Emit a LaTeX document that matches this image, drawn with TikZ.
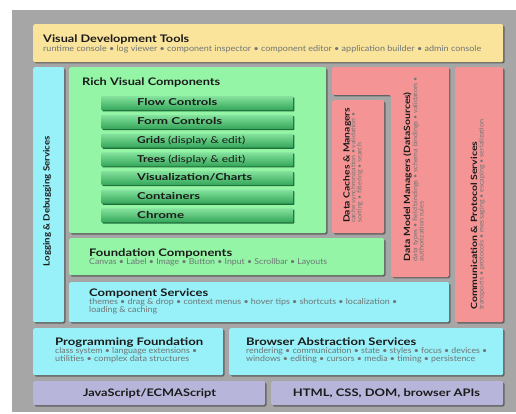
\documentclass[tikz,border=0pt]{standalone}
\usepackage{fontspec}
\setmainfont{Lato}
\usetikzlibrary{shadows}

\definecolor{bggray}{HTML}{A6A6A6}
\definecolor{toolyellow}{HTML}{FAE39B}
\definecolor{richgreen}{HTML}{94F5A6}
\definecolor{svccyan}{HTML}{98F0F8}
\definecolor{datared}{HTML}{F59494}
\definecolor{baselilac}{HTML}{B8B5DA}
\definecolor{inkdark}{HTML}{1A1A1A}
\definecolor{subgray}{HTML}{6E7676}
\definecolor{btntop}{HTML}{84E29D}
\definecolor{btnmid}{HTML}{4DC273}
\definecolor{btnbot}{HTML}{34A659}
\definecolor{btnedge}{HTML}{1F6E3A}

% set a text to a given width, keeping its height
\newcommand\fitw[2]{\resizebox{#1pt}{\height}{#2}}

\tikzset{
  panel/.style={rounded corners=1.5pt, inner sep=0pt, anchor=north west,
    drop shadow={shadow xshift=1.3pt, shadow yshift=-1.3pt, fill=black, opacity=0.4}},
  pushbutton/.style={rounded corners=0.8pt, inner sep=0pt, anchor=north west,
    minimum width=192pt, minimum height=14pt,
    top color=btntop, middle color=btnmid, bottom color=btnbot,
    drop shadow={shadow xshift=1.2pt, shadow yshift=-1.2pt, fill=btnedge, opacity=1}},
  ttl/.style={font=\fontsize{10.4}{12}\selectfont\bfseries, text=inkdark,
    inner sep=0pt, anchor=base west},
  btnlabel/.style={ttl, font=\fontsize{9.5}{11}\selectfont\bfseries},
  sub/.style={font=\fontsize{8.2}{8}\selectfont, text=subgray,
    inner sep=0pt, anchor=base west, align=left},
  vttl/.style={ttl, font=\fontsize{8.6}{10}\selectfont\bfseries, rotate=90},
  vsub/.style={sub, font=\fontsize{6.6}{6.2}\selectfont, rotate=90},
}

% a filled panel: name, colour, top-left x, top-left y, width, height
\newcommand\panelbox[6]{%
  \node[panel, fill=#2, minimum width=#5pt, minimum height=#6pt] (#1) at (#3,#4) {};}
% a green push button with its label: name, top y, label width, label
\newcommand\pushbtn[4]{%
  \node[pushbutton] (#1) at (101,#2) {};
  \node[btnlabel] (#1T) at (137,#2+10) {\fitw{#3}{#4}};}

\begin{document}
\begin{tikzpicture}[x=1pt, y=-1pt]
  \useasboundingbox (0,0) rectangle (516,414);
  \fill[white] (0,0) rectangle (516,414);
  \fill[bggray] (12,10) rectangle (516,412);

  % top layer: tools
  \panelbox{vdt}{toolyellow}{33}{24}{470}{38}
  \node[ttl] (vdtT) at (43,43) {\fitw{146}{Visual Development Tools}};
  \node[sub] (vdtS) at (43,51.5) {\fitw{438}{runtime console • log viewer • component inspector • component editor • application builder • admin console}};

  % left column: logging
  \panelbox{log}{svccyan}{33}{67}{31}{255}
  \node[vttl] (logT) at (49.5,266.5) {\fitw{130}{Logging \& Debugging Services}};

  % rich visual components with its buttons
  \panelbox{rich}{richgreen}{69}{67}{257}{166}
  \node[ttl] (richT) at (82,86) {\fitw{138}{Rich Visual Components}};
  \pushbtn{flow}{96}{80}{Flow Controls}
  \pushbtn{form}{114.7}{85}{Form Controls}
  \pushbtn{grids}{133.4}{108}{Grids {\mdseries (display \& edit)}}
  \pushbtn{trees}{152.1}{108}{Trees {\mdseries (display \& edit)}}
  \pushbtn{vis}{170.8}{115}{Visualization/Charts}
  \pushbtn{cont}{189.5}{63}{Containers}
  \pushbtn{chrome}{208.2}{47}{Chrome}

  % data layer
  \fill[datared, rounded corners=1.5pt,
    drop shadow={shadow xshift=1.3pt, shadow yshift=-1.3pt, fill=black, opacity=0.4}]
    (332,67) -- (449,67) -- (449,277) -- (391,277) -- (391,95) -- (332,95) -- cycle;
  \node[vttl] (modelT) at (410,261.5) {\fitw{169}{Data Model Managers (DataSources)}};
  \node[vsub] (modelS) at (423.5,261.5) {\fitw{184}{data types • field bindings • schema bindings • validators •}\\\fitw{60}{authorization rules}};

  \panelbox{caches}{datared}{332}{100}{52}{133}
  \node[vttl] (cachesT) at (349.5,223) {\fitw{115}{Data Caches \& Managers}};
  \node[vsub] (cachesS) at (361.5,223) {\fitw{110}{cache synchronization • validation •}\\\fitw{80}{sorting • filtering • search}};

  \panelbox{comm}{datared}{455}{67}{48}{255}
  \node[vttl] (commT) at (477,310) {\fitw{168}{Communication \& Protocol Services}};
  \node[vsub] (commS) at (483.5,310) {\fitw{190}{transports • protocols • messaging • escaping • serialization}};

  % foundation and services
  \panelbox{found}{richgreen}{69}{238}{315}{37}
  \node[ttl] (foundT) at (89,256.5) {\fitw{143}{Foundation Components}};
  \node[sub] (foundS) at (89,264) {\fitw{238}{Canvas • Label • Image • Button • Input • Scrollbar • Layouts}};

  \panelbox{csvc}{svccyan}{69}{282}{380}{40}
  \node[ttl] (csvcT) at (89,296.5) {\fitw{119}{Component Services}};
  \node[sub] (csvcS) at (89,312) {\fitw{308}{themes • drag \& drop • context menus • hover tips • shortcuts • localization •}\\\fitw{68}{loading \& caching}};

  % lower layers
  \panelbox{prog}{svccyan}{33}{328}{190}{47}
  \node[ttl] (progT) at (55,345.5) {\fitw{148}{Programming Foundation}};
  \node[sub] (progS) at (55,361) {\fitw{142}{class system • language extensions •}\\\fitw{134}{utilities • complex data structures}};

  \panelbox{bas}{svccyan}{229}{328}{274}{47}
  \node[ttl] (basT) at (246,345.5) {\fitw{170}{Browser Abstraction Services}};
  \node[sub] (basS) at (246,361) {\fitw{241}{rendering • communication • state • styles • focus • devices •}\\\fitw{229}{windows • editing • cursors • media • timing • persistence}};

  \panelbox{js}{baselilac}{33}{381}{232}{24}
  \node[ttl, anchor=base] (jsT) at (149.5,396) {\fitw{133}{JavaScript/ECMAScript}};
  \panelbox{html}{baselilac}{271}{381}{232}{24}
  \node[ttl, anchor=base] (htmlT) at (386.5,396) {\fitw{187}{HTML, CSS, DOM, browser APIs}};
\end{tikzpicture}
\end{document}
